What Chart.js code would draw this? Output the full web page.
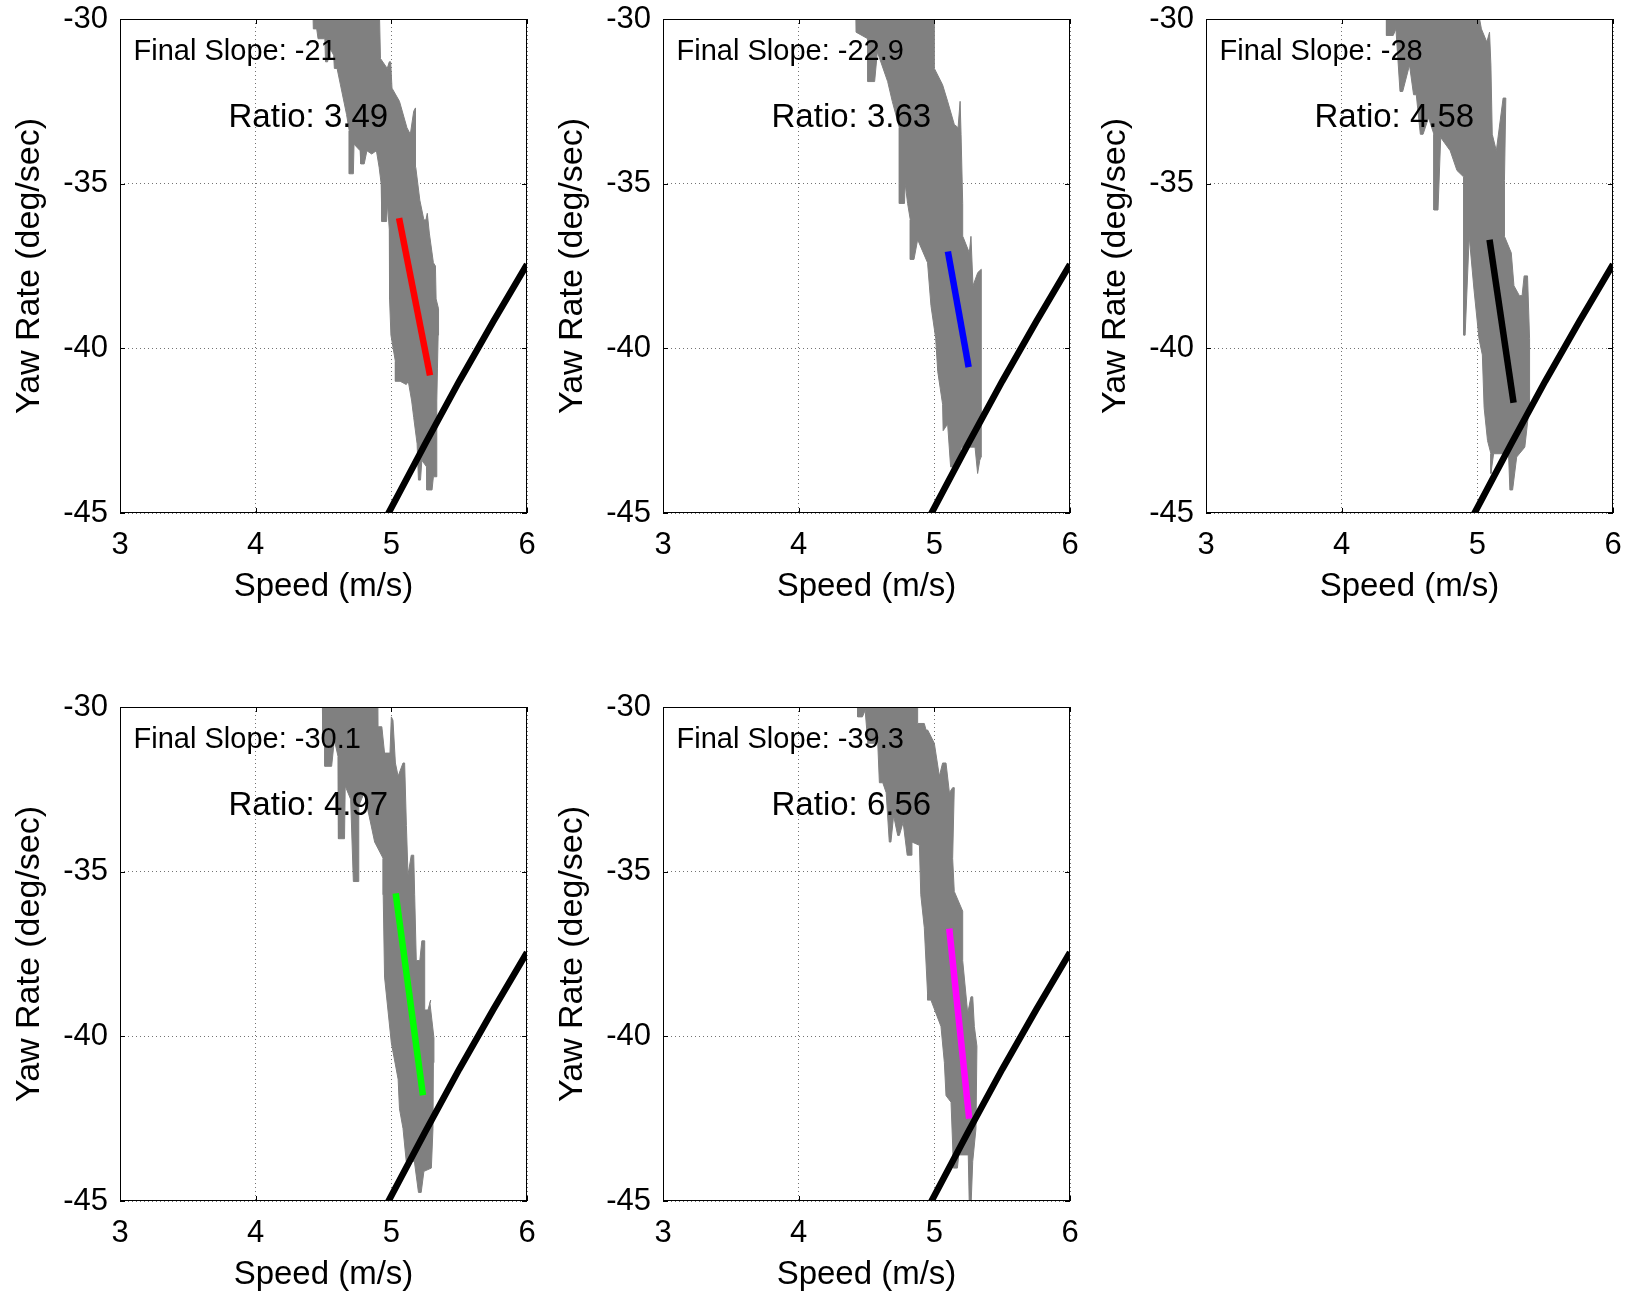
<!DOCTYPE html>
<html>
<head>
<meta charset="utf-8">
<title>Yaw rate vs speed</title>
<script src="https://cdn.jsdelivr.net/npm/chart.js@4.4.0/dist/chart.umd.min.js"></script>
<style>
  html, body { margin: 0; padding: 0; background: #fff; overflow: hidden; }
  body { width: 1629px; height: 1291px; position: relative; }
  .panel { position: absolute; width: 540px; height: 620px; }
</style>
</head>
<body>
<div class="panel" style="left:0px;top:0px"><canvas id="c1" width="540" height="620"></canvas></div>
<div class="panel" style="left:543px;top:0px"><canvas id="c2" width="540" height="620"></canvas></div>
<div class="panel" style="left:1086px;top:0px"><canvas id="c3" width="540" height="620"></canvas></div>
<div class="panel" style="left:0px;top:688px"><canvas id="c4" width="540" height="620"></canvas></div>
<div class="panel" style="left:543px;top:688px"><canvas id="c5" width="540" height="620"></canvas></div>
<script>
// axis ranges / ticks
var xRange = [3, 6];
var yRange = [-45, -30];
var xStep = 1;
var yStep = 5;

// labels written in each panel
var slopeLabels = ['-21', '-22.9', '-28', '-30.1', '-39.3'];
var ratioLabels = ['3.49', '3.63', '4.58', '4.97', '6.56'];
var slopeTextAt = [3.1, -31];
var ratioTextAt = [3.8, -33];

// fitted line for each run (start, end)
var fitX = [[5.057, 5.285], [5.10, 5.253], [5.09, 5.267], [5.032, 5.233], [5.11, 5.257]];
var fitY = [[-36.05, -40.82], [-37.06, -40.57], [-36.70, -41.65], [-35.66, -41.79], [-36.73, -42.50]];
var fitColors = ['#ff0000', '#0000ff', '#000000', '#00ff00', '#ff00ff'];

// reference curve, same in every panel
var refX = [4.95, 5.25, 5.5, 5.75, 6.0, 6.05];
var refY = [-45.23, -42.9, -41.0, -39.2, -37.45, -37.1];

// outline of the grey measured data, one per run
var cloud1 = [[4.42,-29.4],[4.425,-30.3],[4.45,-30.3],[4.46,-30.6],[4.51,-30.6],[4.515,-31.3],[4.53,-31.3],[4.55,-30.9],
  [4.575,-31.1],[4.58,-31.5],[4.60,-31.5],[4.625,-32.0],[4.67,-32.9],[4.69,-33.4],[4.69,-34.7],[4.72,-34.7],[4.725,-33.8],
  [4.77,-34.0],[4.775,-34.4],[4.80,-34.4],[4.82,-34.0],[4.855,-34.1],[4.89,-34.0],[4.91,-34.5],[4.925,-35.0],[4.93,-36.15],
  [4.965,-36.15],[4.972,-35.6],[4.985,-36.4],[4.987,-38.5],[4.997,-39.6],[5.03,-40.4],[5.03,-41.0],[5.065,-41.0],[5.11,-41.1],
  [5.125,-41.0],[5.15,-41.6],[5.165,-42.1],[5.19,-42.9],[5.20,-44.0],[5.215,-44.0],[5.225,-43.4],[5.26,-43.6],[5.262,-44.3],
  [5.30,-44.3],[5.31,-43.9],[5.335,-43.9],[5.335,-41.6],[5.34,-40.6],[5.345,-39.6],[5.348,-38.8],[5.33,-38.5],[5.325,-37.5],
  [5.31,-37.4],[5.28,-36.5],[5.265,-35.9],[5.255,-36.1],[5.24,-36.1],[5.21,-35.5],[5.18,-34.5],[5.178,-32.7],[5.165,-32.8],
  [5.14,-33.5],[5.115,-33.3],[5.06,-32.5],[5.005,-32.1],[4.995,-31.3],[4.985,-31.3],[4.97,-31.5],[4.92,-31.2],[4.91,-29.4]];
var cloud2 = [[4.42,-29.4],[4.423,-30.4],[4.51,-30.6],[4.51,-31.9],[4.56,-31.9],[4.58,-31.0],[4.656,-31.9],[4.69,-32.5],
  [4.742,-33.3],[4.742,-35.6],[4.78,-35.6],[4.785,-35.0],[4.803,-35.6],[4.823,-36.1],[4.823,-37.3],[4.85,-37.3],[4.877,-36.7],
  [4.95,-37.4],[4.975,-38.7],[5.01,-39.7],[5.025,-40.7],[5.061,-41.7],[5.065,-42.5],[5.098,-42.3],[5.12,-43.6],[5.16,-43.6],
  [5.20,-43.0],[5.30,-43.0],[5.319,-43.8],[5.335,-43.4],[5.344,-43.3],[5.35,-40.7],[5.344,-39.7],[5.344,-37.6],[5.32,-37.7],
  [5.285,-38.1],[5.27,-36.6],[5.258,-37.1],[5.21,-36.6],[5.209,-35.6],[5.197,-33.5],[5.19,-32.5],[5.175,-33.3],[5.147,-33.2],
  [5.098,-32.5],[5.061,-32.0],[5.0,-31.5],[5.0,-29.4]];
var cloud3 = [[4.33,-29.4],[4.33,-30.5],[4.38,-30.5],[4.40,-30.3],[4.43,-32.2],[4.45,-32.2],[4.50,-31.4],[4.53,-32.3],
  [4.55,-32.3],[4.58,-33.5],[4.60,-33.5],[4.64,-33.0],[4.68,-33.5],[4.68,-35.8],[4.71,-35.8],[4.73,-33.6],[4.80,-34.0],
  [4.85,-34.6],[4.90,-34.8],[4.90,-39.6],[4.91,-39.6],[4.94,-36.6],[4.975,-38.2],[5.012,-39.7],[5.037,-40.2],[5.05,-41.8],
  [5.075,-42.8],[5.10,-43.2],[5.10,-43.8],[5.12,-43.2],[5.23,-43.2],[5.24,-44.3],[5.26,-44.3],[5.29,-43.3],[5.35,-43.0],
  [5.385,-41.7],[5.385,-39.7],[5.37,-37.8],[5.345,-37.8],[5.33,-38.4],[5.31,-38.4],[5.27,-38.1],[5.25,-37.1],[5.20,-36.6],
  [5.20,-34.9],[5.21,-32.4],[5.19,-32.4],[5.14,-34.0],[5.11,-33.5],[5.10,-31.4],[5.09,-30.4],[5.07,-30.7],[5.03,-30.3],[4.99,-29.4]];
var cloud4 = [[4.49,-29.4],[4.495,-31.0],[4.51,-31.0],[4.51,-31.8],[4.56,-31.8],[4.58,-31.0],[4.607,-31.5],[4.61,-34.0],
  [4.655,-34.0],[4.66,-32.4],[4.70,-32.8],[4.72,-35.3],[4.755,-35.3],[4.76,-33.0],[4.80,-32.6],[4.877,-34.1],[4.94,-34.6],
  [4.94,-35.7],[4.95,-38.2],[5.0,-40.2],[5.05,-41.3],[5.06,-42.2],[5.086,-42.8],[5.11,-43.8],[5.17,-43.8],[5.20,-44.74],
  [5.22,-44.74],[5.24,-44.1],[5.295,-44.0],[5.307,-42.8],[5.31,-40.8],[5.314,-40.05],[5.285,-39.0],[5.29,-38.9],[5.27,-39.2],
  [5.246,-39.2],[5.246,-37.1],[5.225,-37.1],[5.21,-37.7],[5.184,-37.7],[5.172,-35.7],[5.165,-34.5],[5.147,-34.5],[5.123,-35.1],
  [5.111,-33.6],[5.098,-31.7],[5.086,-31.7],[5.05,-32.1],[5.03,-31.7],[5.012,-30.4],[5.0,-30.3],[4.99,-31.4],[4.95,-31.4],
  [4.93,-30.6],[4.902,-30.6],[4.90,-29.4]];
var cloud5 = [[4.43,-29.4],[4.435,-30.3],[4.47,-30.3],[4.49,-30.1],[4.51,-31.1],[4.56,-31.1],[4.58,-30.8],[4.595,-32.3],
  [4.62,-32.3],[4.645,-32.6],[4.668,-34.1],[4.68,-34.1],[4.70,-33.3],[4.73,-33.9],[4.742,-33.9],[4.77,-33.5],[4.80,-34.5],
  [4.83,-34.5],[4.835,-34.1],[4.89,-34.2],[4.90,-35.7],[4.926,-36.7],[4.95,-38.7],[4.95,-38.9],[4.975,-38.9],[5.049,-39.7],
  [5.074,-40.8],[5.086,-41.8],[5.123,-42.0],[5.135,-43.3],[5.14,-44.0],[5.17,-44.0],[5.18,-43.6],[5.25,-43.6],[5.258,-45.2],
  [5.27,-45.2],[5.283,-43.8],[5.307,-42.8],[5.314,-40.3],[5.295,-39.7],[5.283,-38.8],[5.27,-38.8],[5.246,-39.3],[5.209,-37.7],
  [5.209,-36.2],[5.147,-35.6],[5.135,-34.6],[5.147,-32.45],[5.135,-32.45],[5.111,-32.6],[5.086,-31.7],[5.061,-31.7],
  [5.037,-32.1],[5.0,-31.1],[4.951,-30.7],[4.939,-30.7],[4.926,-30.5],[4.877,-30.5],[4.877,-29.4]];
var clouds = [cloud1, cloud2, cloud3, cloud4, cloud5];

var FONT = '"Liberation Sans", Arial, Helvetica, sans-serif';
Chart.defaults.font.family = FONT;
Chart.defaults.color = '#000';

function toPoints(xs, ys) {
  return xs.map(function(x, i) { return {x: x, y: ys[i]}; });
}

// box, inward ticks and the two text labels, like a matlab axes
var matlabAxes = {
  id: 'matlabAxes',
  afterDatasetsDraw: function(chart, args, opts) {
    var ctx = chart.ctx, a = chart.chartArea;
    var xs = chart.scales.x, ys = chart.scales.y;
    ctx.save();
    ctx.strokeStyle = '#000';
    ctx.lineWidth = 1;
    ctx.strokeRect(a.left + 0.5, a.top + 0.5, a.right - a.left - 1, a.bottom - a.top - 1);
    var len = 5;
    ctx.beginPath();
    xs.ticks.forEach(function(t) {
      var px = Math.round(xs.getPixelForValue(t.value)) + 0.5;
      ctx.moveTo(px, a.bottom); ctx.lineTo(px, a.bottom - len);
      ctx.moveTo(px, a.top); ctx.lineTo(px, a.top + len);
    });
    ys.ticks.forEach(function(t) {
      var py = Math.round(ys.getPixelForValue(t.value)) + 0.5;
      ctx.moveTo(a.left, py); ctx.lineTo(a.left + len, py);
      ctx.moveTo(a.right, py); ctx.lineTo(a.right - len, py);
    });
    ctx.stroke();

    ctx.fillStyle = '#000';
    ctx.textAlign = 'left';
    ctx.textBaseline = 'middle';
    ctx.font = '29px ' + FONT;
    ctx.fillText('Final Slope: ' + opts.slope,
      xs.getPixelForValue(slopeTextAt[0]), ys.getPixelForValue(slopeTextAt[1]));
    ctx.font = '33px ' + FONT;
    ctx.fillText('Ratio: ' + opts.ratio,
      xs.getPixelForValue(ratioTextAt[0]), ys.getPixelForValue(ratioTextAt[1]));
    ctx.restore();
  }
};

function makePanel(i) {
  new Chart(document.getElementById('c' + (i + 1)), {
    type: 'scatter',
    data: {
      datasets: [
        {
          data: toPoints(refX, refY),
          showLine: true, borderColor: '#000', borderWidth: 6.5,
          pointRadius: 0, fill: false, clip: 0, order: 0
        },
        {
          data: toPoints(fitX[i], fitY[i]),
          showLine: true, borderColor: fitColors[i], borderWidth: 6.5, borderCapStyle: 'butt',
          pointRadius: 0, fill: false, clip: 0, order: 1
        },
        {
          data: clouds[i].map(function(p) { return {x: p[0], y: p[1]}; }),
          showLine: true, borderColor: '#808080', backgroundColor: '#808080', borderWidth: 1,
          pointRadius: 0, fill: 'shape', clip: 0, order: 2
        }
      ]
    },
    options: {
      responsive: false,
      maintainAspectRatio: false,
      animation: false,
      events: [],
      layout: { padding: { top: 19, right: 13, left: 0, bottom: 0 } },
      plugins: {
        legend: { display: false },
        tooltip: { enabled: false },
        matlabAxes: { slope: slopeLabels[i], ratio: ratioLabels[i] }
      },
      scales: {
        x: {
          type: 'linear', min: xRange[0], max: xRange[1],
          afterFit: function(s) { s.height = 107; },
          ticks: { stepSize: xStep, padding: 0, font: { size: 31 }, color: '#000' },
          grid: { color: 'rgba(0,0,0,0.55)', lineWidth: 1, drawTicks: true, tickLength: 14,
                  tickColor: 'rgba(0,0,0,0)' },
          border: { display: false, dash: [1, 3] },
          title: { display: true, text: 'Speed (m/s)', color: '#000', font: { size: 33 },
                   padding: { top: 0, bottom: 13 } }
        },
        y: {
          type: 'linear', min: yRange[0], max: yRange[1],
          afterFit: function(s) { s.width = 120; },
          ticks: { stepSize: yStep, padding: 0, font: { size: 31 }, color: '#000' },
          grid: { color: 'rgba(0,0,0,0.55)', lineWidth: 1, drawTicks: true, tickLength: 12,
                  tickColor: 'rgba(0,0,0,0)' },
          border: { display: false, dash: [1, 3] },
          title: { display: true, text: 'Yaw Rate (deg/sec)', color: '#000', font: { size: 34 },
                   padding: { top: 9, bottom: 0 } }
        }
      }
    },
    plugins: [matlabAxes]
  });
}

for (var i = 0; i < 5; i++) makePanel(i);
</script>
</body>
</html>
